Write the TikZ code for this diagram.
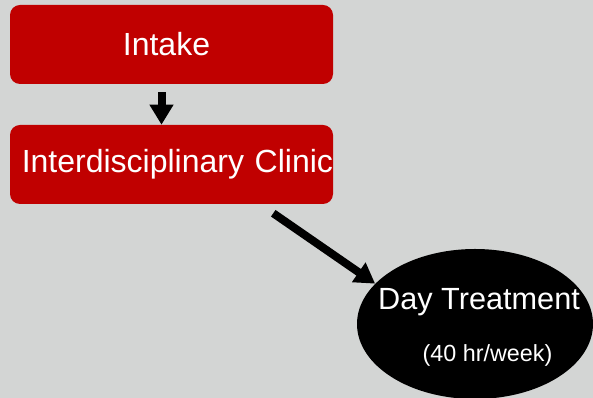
\documentclass[tikz,border=0pt]{standalone}
\usepackage{fontspec}
\setmainfont{Liberation Sans}
\usetikzlibrary{arrows.meta,shapes.geometric}
\definecolor{bggray}{RGB}{211,213,212}
\definecolor{boxred}{RGB}{192,0,0}
\tikzset{
  redbox/.style={fill=boxred, rounded corners=7.5pt, minimum width=242.25pt,
    minimum height=59.25pt, inner sep=0pt, text=white, font=\fontsize{24}{28}\selectfont},
  blackoval/.style={ellipse, fill=black, minimum width=177pt, minimum height=112.5pt,
    inner sep=0pt},
  ovaltext/.style={text=white, inner sep=0pt, anchor=base},
  arr/.style={line width=6pt, -{Triangle[length=15pt,width=17pt]}}
}
\begin{document}
\begin{tikzpicture}[x=0.75pt, y=-0.75pt]
        \fill[bggray] (0,0) rectangle (593,398);
        \useasboundingbox (0,0) rectangle (593,398);

        \node[redbox, text width=242.25pt, align=center] (intake) at (171.5, 44.5) {\hspace*{-7.5pt}Intake};
        \node[redbox, text width=242.25pt, align=right] (clinic) at (171.5, 164.5) {Interdisciplinary Clinic};
        \node[blackoval] (day) at (475, 324) {};
        \node[ovaltext, font=\fontsize{23}{28}\selectfont] (daytitle) at (479, 310) {Day Treatment};
        \node[ovaltext, font=\fontsize{17.5}{20}\selectfont] (dayhours) at (487.5, 362) {(40 hr/week)};

        \draw [arr] ([shift={(-10,8)}]intake.south) -- ([xshift=-7.5pt]clinic.north);
        \draw [arr] ([shift={(-60,9)}]clinic.south east) -- (day.158);
\end{tikzpicture}
\end{document}
